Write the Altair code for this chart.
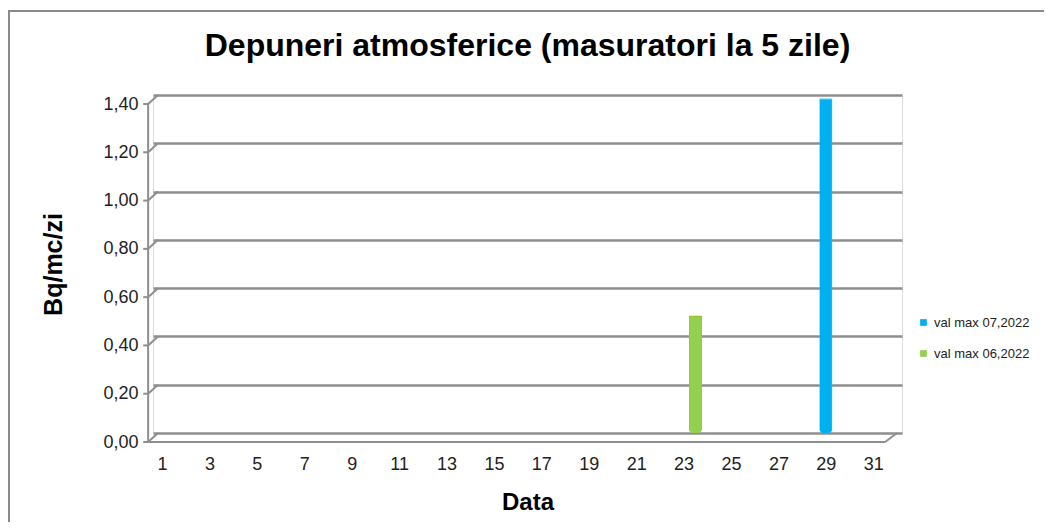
import altair as alt
import pandas as pd

# ---- data ----
series = ["val max 07,2022", "val max 06,2022"]
days = [29, 23.5]
values = [1.40, 0.50]
fill_colors = ["#00B0F0", "#92D050"]
edge_colors = ["#55D0F8", "#9CC21E"]
y_ticks = [0.0, 0.2, 0.4, 0.6, 0.8, 1.0, 1.2, 1.4]
x_ticks = list(range(1, 32, 2))

df = pd.DataFrame({"series": series, "day": days, "value": values})
ticks_df = pd.DataFrame({"v": y_ticks})

FONT = "Liberation Sans"
GRID = "#8e8e8e"
Y_TITLE = "Bq/mc/zi"
X_TITLE = "Data"

x_scale = alt.Scale(domain=[0.833, 32.0], nice=False, zero=False)
y_scale = alt.Scale(domain=[0, 1.4], nice=False, zero=False)

frame = alt.Chart(pd.DataFrame({"a": [0]})).mark_rect(
    fillOpacity=0, stroke="#8a8a8a", strokeWidth=2
).encode(
    x=alt.value(-144), x2=alt.value(905), y=alt.value(-84), y2=alt.value(445)
)

bars = alt.Chart(df).mark_bar(
    width=13, cornerRadius=4, yOffset=4, y2Offset=6, strokeWidth=1.2
).encode(
    x=alt.X(
        "day:Q", scale=x_scale,
        axis=alt.Axis(
            values=x_ticks, title=X_TITLE, grid=False, domain=False, ticks=False,
            labelPadding=22, labelFontSize=18, labelColor="#222222", labelFont=FONT,
            titleFontSize=24, titleFontWeight="bold", titleFont=FONT, titleColor="#000000",
            titlePadding=17, labelFlush=False, labelOverlap=False,
        ),
    ),
    y=alt.Y(
        "value:Q", scale=y_scale,
        axis=alt.Axis(
            values=y_ticks, title=Y_TITLE,
            labelExpr="replace(format(datum.value, '.2f'), '.', ',')",
            grid=True, gridColor=GRID, gridWidth=2.5, domain=False, ticks=False,
            labelPadding=15, labelOffset=9, labelFontSize=18, labelColor="#222222",
            labelFont=FONT, titleFontSize=25, titleFontWeight="bold", titleFont=FONT,
            titleColor="#000000", titlePadding=36,
        ),
    ),
    color=alt.Color(
        "series:N", scale=alt.Scale(domain=series, range=fill_colors),
        legend=alt.Legend(
            title=None, orient="none", legendX=764, legendY=221, padding=0,
            symbolType="square", symbolSize=45, symbolStrokeWidth=0,
            labelFontSize=13, labelFont=FONT, labelColor="#222222",
            labelOffset=4, rowPadding=17,
        ),
    ),
    stroke=alt.Stroke("series:N", scale=alt.Scale(domain=series, range=edge_colors), legend=None),
)

base_rule = dict(color=GRID, strokeWidth=2)
one = pd.DataFrame({"a": [0]})

floor_front = alt.Chart(one).mark_rule(yOffset=9, y2Offset=9, **base_rule).encode(
    x=alt.XDatum(0.417, scale=x_scale), x2=alt.X2Datum(31.5),
    y=alt.YDatum(0, scale=y_scale), y2=alt.Y2Datum(0),
)

floor_side = alt.Chart(one).mark_rule(yOffset=9, y2Offset=0, **base_rule).encode(
    x=alt.XDatum(31.5, scale=x_scale), x2=alt.X2Datum(32.0),
    y=alt.YDatum(0, scale=y_scale), y2=alt.Y2Datum(0),
)

wall_slants = alt.Chart(ticks_df).mark_rule(yOffset=9, y2Offset=0, **base_rule).encode(
    x=alt.XDatum(0.417, scale=x_scale), x2=alt.X2Datum(0.833),
    y=alt.Y("v:Q", title=Y_TITLE, scale=y_scale), y2="v:Q",
)

front_ticks = alt.Chart(ticks_df).mark_rule(yOffset=9, y2Offset=9, **base_rule).encode(
    x=alt.XDatum(0.209, scale=x_scale), x2=alt.X2Datum(0.417),
    y=alt.Y("v:Q", title=Y_TITLE, scale=y_scale), y2="v:Q",
)

front_axis = alt.Chart(one).mark_rule(yOffset=9, y2Offset=9, **base_rule).encode(
    x=alt.XDatum(0.417, scale=x_scale),
    y=alt.YDatum(0, scale=y_scale), y2=alt.Y2Datum(1.4),
)

chart = alt.layer(
    frame, bars, floor_front, floor_side, wall_slants, front_ticks, front_axis
).properties(
    width=749, height=338,
    padding={"left": 145, "top": 87, "right": 142, "bottom": 89},
    autosize=alt.AutoSizeParams(type="none"),
    title=alt.Title(
        "Depuneri atmosferice (masuratori la 5 zile)",
        fontSize=32, fontWeight="bold", font=FONT, color="#000000",
        anchor="middle", frame="group", baseline="alphabetic", offset=-78,
    ),
).configure_view(strokeWidth=0).configure(background="#ffffff")

chart.save("out.html", embed_options={"renderer": "svg", "actions": False})
